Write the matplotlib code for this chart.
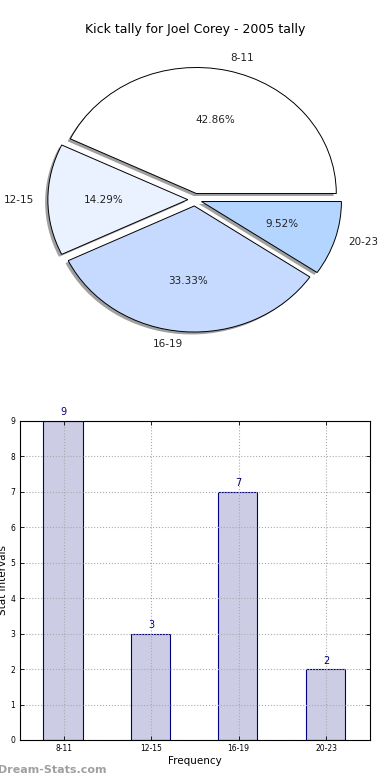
import matplotlib
matplotlib.use("Agg")
import matplotlib.pyplot as plt
import numpy as np

# data
intervals = ["8-11", "12-15", "16-19", "20-23"]
counts = [9, 3, 7, 2]
pie_colors = ["#ffffff", "#ebf2ff", "#c6d9ff", "#b3d5ff"]
title = "Kick tally for Joel Corey - 2005 tally"

fig = plt.figure(figsize=(3.9, 7.8), dpi=100)

# --- pie ---
ax1 = fig.add_axes([0.051, 0.542, 0.897, 0.404])
ax1.pie(counts, labels=intervals, colors=pie_colors, autopct="%.2f%%",
        explode=[0.05] * len(counts),
        shadow={"ox": -0.014, "oy": -0.014, "facecolor": "#888888",
                "edgecolor": "none", "alpha": 0.8},
        startangle=0, counterclock=True, labeldistance=1.1, pctdistance=0.6,
        wedgeprops=dict(edgecolor="black", linewidth=0.7),
        textprops=dict(fontsize=7.5, color="#222222"))
ax1.set_aspect("auto")
ax1.set_xlim(-1.25, 1.25)
ax1.set_ylim(-1.25, 1.25)
fig.text(0.5, 1 - 30 / 780, title, ha="center", va="center", fontsize=9)

# --- bars ---
ax2 = fig.add_axes([0.0513, 0.0513, 0.897, 0.409])
x = np.arange(len(counts)) + 0.5
ax2.bar(x - 0.01, counts, width=0.45, color="#ccccE5", edgecolor="#000080",
        linewidth=0.8, zorder=2)
for xi, c in zip(x, counts):
    ax2.text(xi, c + 0.1, str(c), ha="center", va="bottom",
             fontsize=7, color="#000080")
ax2.set_xlim(0, 4)
ax2.set_ylim(0, 9)
ax2.set_xticks(x)
ax2.set_xticklabels(intervals)
ax2.set_yticks(range(10))
ax2.tick_params(direction="in", length=3, labelsize=5.5, top=True, right=True,
                width=0.6)
ax2.tick_params(axis="x", pad=3)
ax2.grid(True, linestyle=":", color="#aaaaaa", linewidth=0.8, zorder=3)
ax2.set_axisbelow(False)
for s in ax2.spines.values():
    s.set_linewidth(0.8)
    s.set_zorder(4)
ax2.set_xlabel("Frequency", fontsize=7.5, labelpad=2)
ax2.set_ylabel("Stat Intervals", fontsize=7.5)
ax2.yaxis.set_label_coords(-0.034, 0.5)

fig.text(-0.005, 1 - 770 / 780, "Dream-Stats.com", ha="left", va="center",
         fontsize=8, color="#a0a0a0", fontweight="bold")

fig.savefig("out.png", dpi=100)
